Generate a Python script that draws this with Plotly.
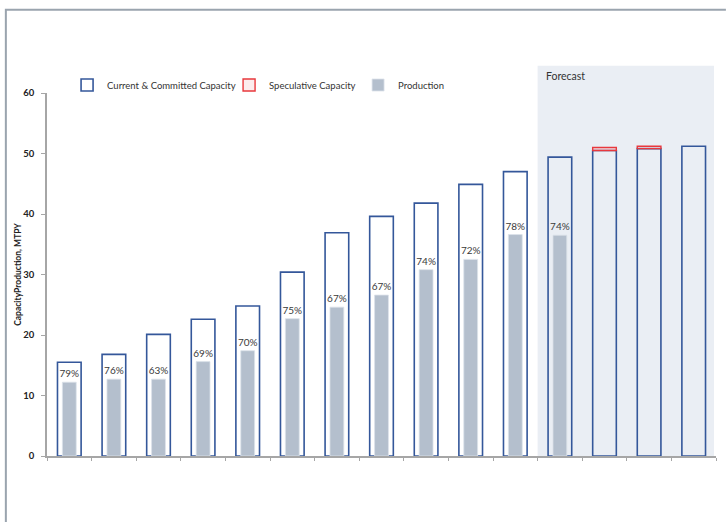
import plotly.graph_objects as go

# One slot per year on the horizontal axis (no year labels are printed)
periods = list(range(15))
forecast_start = 11  # first forecast period

current_committed_capacity = [15.5, 16.8, 20.1, 22.6, 24.8, 30.4, 36.9, 39.6,
                              41.8, 44.9, 47.0, 49.4, 50.5, 50.8, 51.2]
speculative_capacity = [None] * 12 + [0.5, 0.4, None]
production = [12.2, 12.7, 12.7, 15.6, 17.4, 22.7, 24.6, 26.6,
              30.8, 32.5, 36.6, 36.5, None, None, None]
utilisation_labels = ["79%", "76%", "63%", "69%", "70%", "75%", "67%", "67%",
                      "74%", "72%", "78%", "74%", "", "", ""]

y_ticks = [0, 10, 20, 30, 40, 50, 60]

FONT = "Lato"
BLUE = "#34579A"
RED = "#E8383D"
GREY_BAR = "#B4BFCD"
AXIS = "#A6A6A6"

fig = go.Figure()

fig.add_trace(go.Bar(
    x=periods, y=current_committed_capacity, width=0.53,
    name="Current & Committed Capacity",
    marker=dict(color="rgba(255,255,255,0)", line=dict(color=BLUE, width=1.6)),
    legendwidth=117,
))
fig.add_trace(go.Bar(
    x=periods, y=speculative_capacity, base=current_committed_capacity, width=0.53,
    name="Speculative Capacity",
    marker=dict(color="rgba(246,200,202,0.35)", line=dict(color=RED, width=1.4)),
    legendwidth=84,
))
fig.add_trace(go.Bar(
    x=periods, y=production, width=0.31,
    name="Production",
    marker=dict(color=GREY_BAR, line=dict(color="#DCE2EA", width=0.8)),
    text=utilisation_labels, textposition="outside",
    textfont=dict(family=FONT, size=10, color="#3A3A3A"),
    constraintext="none", cliponaxis=False,
))

n = len(periods)
shapes = [
    # forecast band, reaching a little above the top of the value axis
    dict(type="rect", xref="x domain", yref="y domain",
         x0=forecast_start / n, x1=0.997, y0=0, y1=1.075,
         fillcolor="#EAEEF4", line=dict(width=0), layer="below"),
    # outer chart frame: only its top and left edges fall inside the page
    dict(type="path", xref="paper", yref="paper",
         path="M -0.0615,-0.2 L -0.0615,1.229 L 1.0148,1.229",
         line=dict(color="#9AA4AE", width=2), layer="below"),
]

fig.update_layout(
    width=726, height=522,
    margin=dict(l=47, r=10, t=93, b=66),
    paper_bgcolor="white", plot_bgcolor="rgba(0,0,0,0)",
    barmode="overlay",
    font=dict(family=FONT, size=9, color="#333333"),
    shapes=shapes,
    showlegend=True,
    legend=dict(orientation="h", x=0.03, xanchor="left", y=1.022, yanchor="middle",
                font=dict(family=FONT, size=9.5, color="#333333"),
                bgcolor="rgba(0,0,0,0)", traceorder="normal", itemclick=False),
    annotations=[dict(text="Forecast", xref="x domain", yref="y domain",
                      x=forecast_start / n + 0.009, y=1.047, xanchor="left", yanchor="middle",
                      showarrow=False, font=dict(family=FONT, size=10.5, color="#333333"))],
)

fig.update_xaxes(
    range=[-0.5, n - 0.5],
    tickvals=[i - 0.5 for i in range(n + 1)], ticktext=[""] * (n + 1),
    ticks="outside", ticklen=3, tickcolor=AXIS,
    showline=True, linecolor=AXIS, linewidth=1.5,
    showgrid=False, zeroline=False,
)
fig.update_yaxes(
    range=[0, 60], tickvals=y_ticks,
    ticks="outside", ticklen=4, tickcolor=AXIS,
    tickfont=dict(family=FONT, size=9.5, color="#222222", weight="bold"),
    ticklabelstandoff=5,
    showline=True, linecolor=AXIS, linewidth=1.5,
    showgrid=False, zeroline=False,
    title=dict(text="CapacityProduction, MTPY", standoff=0,
               font=dict(family=FONT, size=8.5, color="#222222", weight="bold")),
)

fig.write_html("out.html")
